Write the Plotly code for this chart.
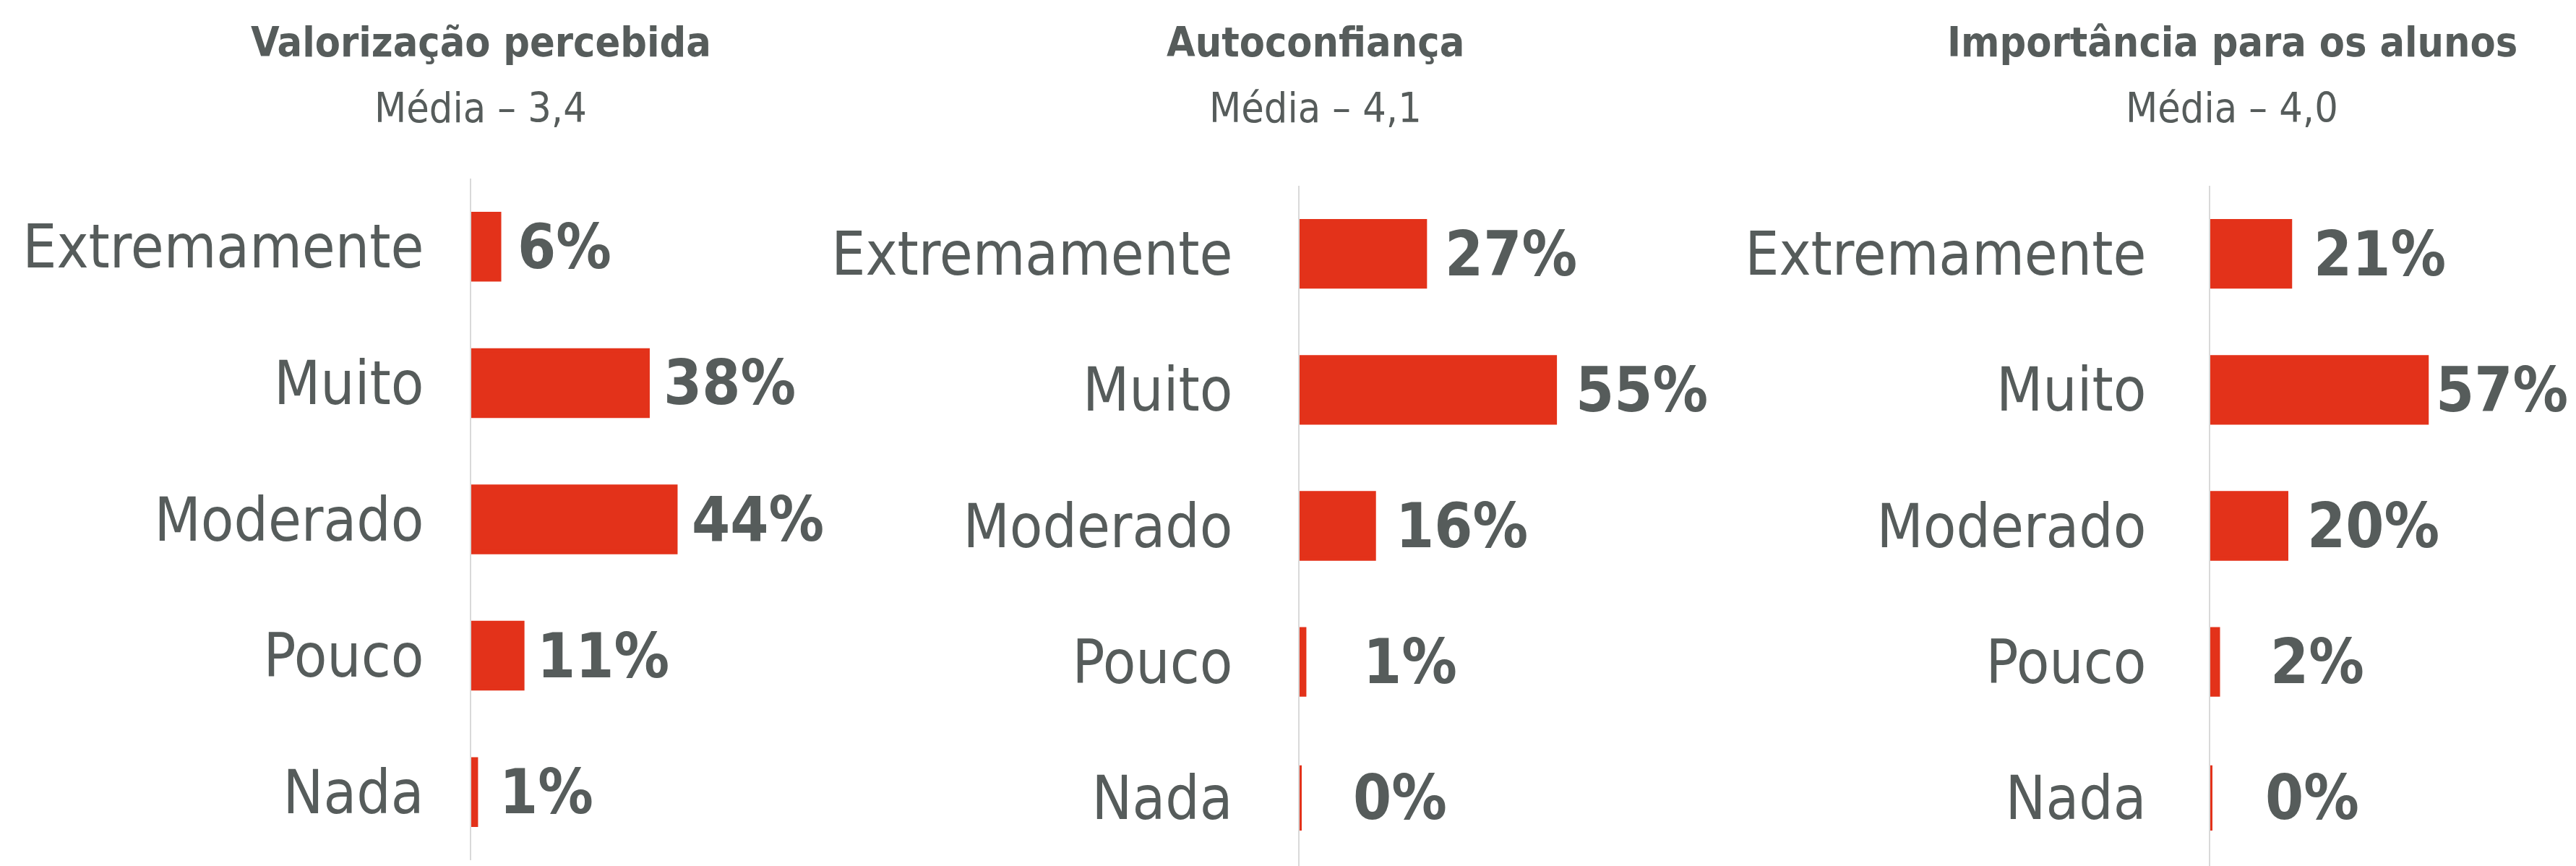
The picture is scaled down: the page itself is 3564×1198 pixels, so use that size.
import plotly.graph_objects as go

# Survey results: share of answers per level, one panel per question
levels = ["Extremamente", "Muito", "Moderado", "Pouco", "Nada"]

titles = ["Valorização percebida", "Autoconfiança", "Importância para os alunos"]
means = ["3,4", "4,1", "4,0"]

valorizacao = [6, 38, 44, 11, 1]
autoconfianca = [27, 55, 16, 1, 0]
importancia = [21, 57, 20, 2, 0]

series = [valorizacao, autoconfianca, importancia]

# ---- styling -------------------------------------------------------------
W, H = 3564, 1198
RED = "#E3321A"
GREY = "#565C5B"
AXIS = "#D9D9D9"
FONT = "DejaVu Sans Condensed, Liberation Sans Narrow, Roboto, sans-serif"

# pixel geometry of each panel: axis position, px per percent, vertical span
axis_px = [652, 1798, 3058]
px_per_pct = [6.42, 6.42, 5.25]
panel_width = [440, 440, 500]
y_top = [247, 257, 257]
y_bot = [1190, 1198, 1198]
tick_gap = [47, 74, 70]
title_x = [665, 1820, 3088]
# horizontal distance (px) from bar end to the centre of the value label
label_offset = [[90, 114, 114, 112, 98],
                [119, 120, 122, 147, 139],
                [124, 104, 120, 137, 141]]

fig = go.Figure()
for i, vals in enumerate(series):
    n = "" if i == 0 else str(i + 1)
    fig.add_trace(go.Bar(
        x=vals, y=levels, orientation="h",
        xaxis="x" + n, yaxis="y" + n,
        marker=dict(color=RED, line=dict(color=RED, width=6)),
        hoverinfo="skip", showlegend=False,
    ))
    x0 = axis_px[i] / W
    x1 = (axis_px[i] + panel_width[i]) / W
    fig.update_layout(**{
        "xaxis" + n: dict(domain=[x0, x1], range=[0, panel_width[i] / px_per_pct[i]],
                          visible=False, anchor="y" + n, fixedrange=True,
                          automargin=False),
        "yaxis" + n: dict(domain=[1 - y_bot[i] / H, 1 - y_top[i] / H],
                          anchor="x" + n, categoryorder="array", categoryarray=levels,
                          autorange="reversed", showline=True, linecolor=AXIS,
                          linewidth=2, showgrid=False, zeroline=False, ticks="",
                          ticklabelstandoff=tick_gap[i], automargin=False,
                          tickfont=dict(family=FONT, size=83, color=GREY),
                          fixedrange=True),
    })
    # value labels, placed a fixed distance past each bar
    for j, v in enumerate(vals):
        fig.add_annotation(
            x=v, y=levels[j], xref="x" + n, yref="y" + n,
            text=f"<b>{v}%</b>", showarrow=False,
            xanchor="center", yanchor="middle", xshift=label_offset[i][j],
            font=dict(family=FONT, size=85, color=GREY),
        )
    # panel heading and mean
    fig.add_annotation(
        x=title_x[i] / W, y=1 - 58 / H, xref="paper", yref="paper",
        text=f"<b>{titles[i]}</b>", showarrow=False,
        xanchor="center", yanchor="middle",
        font=dict(family=FONT, size=57, color=GREY),
    )
    fig.add_annotation(
        x=title_x[i] / W, y=1 - 149 / H, xref="paper", yref="paper",
        text=f"Média – {means[i]}", showarrow=False,
        xanchor="center", yanchor="middle",
        font=dict(family=FONT, size=57, color=GREY),
    )

fig.update_layout(
    width=W, height=H,
    margin=dict(l=0, r=0, t=0, b=0),
    paper_bgcolor="white", plot_bgcolor="white",
    bargap=0.52,
)

fig.write_html("out.html", config={"displayModeBar": False})
